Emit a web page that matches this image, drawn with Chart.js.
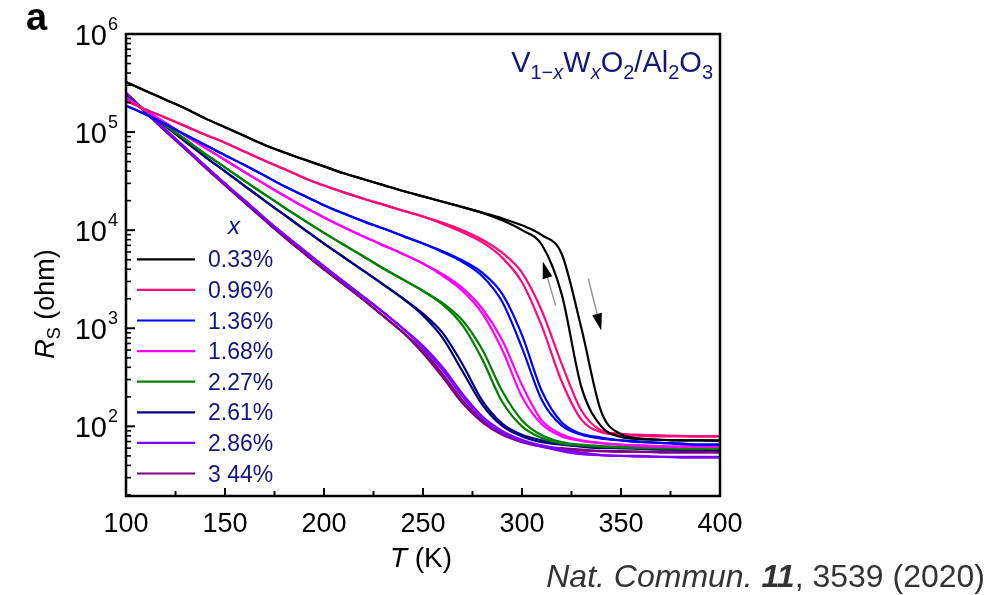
<!DOCTYPE html>
<html>
<head>
<meta charset="utf-8">
<script src="https://cdn.jsdelivr.net/npm/chart.js@4.4.0/dist/chart.umd.min.js"></script>
<style>
  html, body { margin: 0; padding: 0; background: #fff; }
</style>
</head>
<body>
<canvas id="rsChart" width="998" height="595"></canvas>
<script>
// Temperature grid (K)
const tempsK = [100, 110, 120, 130, 140, 150, 160, 170, 180, 190, 200, 210, 220, 230, 240, 250,
  260, 270, 280, 290, 300, 310, 320, 330, 340, 350, 360, 370, 380, 390, 400];

// Sheet resistance (ohm), heating and cooling branch for each W content
const x033Heat = [3.24e5, 2.63e5, 2.14e5, 1.74e5, 1.38e5, 1.12e5, 9.1e4, 7.4e4, 6.2e4, 5.25e4, 4.47e4, 3.8e4, 3.31e4, 2.88e4, 2.51e4, 2.21e4,
  1.95e4, 1.72e4, 1.51e4, 1.32e4, 1.12e4, 8.9e3, 5.75e3, 1.0e3, 141, 83, 75, 73, 72, 72, 71];
const x033Cool = [3.24e5, 2.63e5, 2.14e5, 1.74e5, 1.38e5, 1.12e5, 9.1e4, 7.4e4, 6.2e4, 5.25e4, 4.47e4, 3.8e4, 3.31e4, 2.88e4, 2.51e4, 2.21e4,
  1.95e4, 1.72e4, 1.5e4, 1.26e4, 1.0e4, 7.1e3, 2.24e3, 251, 100, 78, 74, 73, 72, 72, 72];
const x096Heat = [2.09e5, 1.7e5, 1.4e5, 1.15e5, 9.4e4, 7.8e4, 6.3e4, 5.1e4, 4.2e4, 3.4e4, 2.85e4, 2.43e4, 2.09e4, 1.82e4, 1.58e4, 1.38e4,
  1.19e4, 1.0e4, 8.0e3, 5.9e3, 3.7e3, 1.51e3, 437, 145, 91, 84, 82, 81, 80, 79, 79];
const x096Cool = [2.09e5, 1.7e5, 1.4e5, 1.15e5, 9.4e4, 7.8e4, 6.3e4, 5.1e4, 4.2e4, 3.4e4, 2.85e4, 2.43e4, 2.09e4, 1.82e4, 1.58e4, 1.38e4,
  1.16e4, 9.5e3, 7.5e3, 5.25e3, 2.95e3, 1.05e3, 288, 117, 87, 82, 80, 79, 79, 79, 79];
const x136Heat = [1.86e5, 1.51e5, 1.2e5, 9.4e4, 7.4e4, 5.8e4, 4.6e4, 3.6e4, 2.8e4, 2.24e4, 1.8e4, 1.48e4, 1.23e4, 1.04e4, 8.7e3, 7.3e3,
  6.1e3, 4.9e3, 3.67e3, 2.24e3, 851, 229, 110, 84, 77, 72, 70, 68, 67, 65, 65];
const x136Cool = [1.86e5, 1.51e5, 1.2e5, 9.4e4, 7.4e4, 5.8e4, 4.6e4, 3.6e4, 2.8e4, 2.24e4, 1.8e4, 1.48e4, 1.23e4, 1.04e4, 8.7e3, 7.3e3,
  5.96e3, 4.73e3, 3.39e3, 1.86e3, 631, 186, 102, 82, 75, 72, 69, 68, 66, 65, 65];
const x168Heat = [2.24e5, 1.66e5, 1.24e5, 9.2e4, 6.9e4, 5.2e4, 3.9e4, 2.95e4, 2.24e4, 1.72e4, 1.35e4, 1.07e4, 8.6e3, 7.0e3, 5.7e3, 4.57e3,
  3.55e3, 2.57e3, 1.58e3, 759, 263, 115, 83, 72, 68, 65, 64, 63, 62, 62, 62];
const x168Cool = [2.24e5, 1.66e5, 1.24e5, 9.2e4, 6.9e4, 5.2e4, 3.9e4, 2.95e4, 2.24e4, 1.72e4, 1.35e4, 1.07e4, 8.6e3, 7.0e3, 5.7e3, 4.57e3,
  3.43e3, 2.4e3, 1.41e3, 603, 200, 105, 79, 71, 67, 65, 63, 62, 62, 62, 62];
const x227Heat = [2.29e5, 1.64e5, 1.17e5, 8.4e4, 6.0e4, 4.37e4, 3.16e4, 2.32e4, 1.7e4, 1.26e4, 9.4e3, 7.1e3, 5.4e3, 4.07e3, 3.13e3, 2.4e3,
  1.8e3, 1.2e3, 603, 229, 115, 81, 69, 65, 63, 62, 61, 60, 60, 59, 59];
const x227Cool = [2.29e5, 1.64e5, 1.17e5, 8.4e4, 6.0e4, 4.37e4, 3.16e4, 2.32e4, 1.7e4, 1.26e4, 9.4e3, 7.1e3, 5.4e3, 4.07e3, 3.13e3, 2.4e3,
  1.74e3, 1.07e3, 479, 178, 100, 76, 67, 64, 62, 61, 60, 60, 59, 59, 59];
const x261Heat = [2.34e5, 1.64e5, 1.15e5, 8.0e4, 5.6e4, 3.98e4, 2.82e4, 2.0e4, 1.43e4, 1.02e4, 7.3e3, 5.3e3, 3.85e3, 2.79e3, 2.0e3, 1.41e3,
  891, 427, 182, 107, 82, 72, 66, 63, 62, 60, 60, 59, 58, 58, 58];
const x261Cool = [2.34e5, 1.64e5, 1.15e5, 8.0e4, 5.6e4, 3.98e4, 2.82e4, 2.0e4, 1.43e4, 1.02e4, 7.3e3, 5.3e3, 3.85e3, 2.79e3, 2.0e3, 1.35e3,
  794, 363, 166, 101, 79, 69, 65, 62, 60, 60, 59, 58, 58, 58, 57];
const x286Heat = [2.51e5, 1.62e5, 1.06e5, 6.9e4, 4.52e4, 2.99e4, 2.0e4, 1.33e4, 9.0e3, 6.2e3, 4.27e3, 2.99e3, 2.09e3, 1.45e3, 989, 661,
  398, 214, 126, 90, 73, 64, 58, 54, 51, 50, 50, 49, 49, 49, 49];
const x286Cool = [2.51e5, 1.62e5, 1.06e5, 6.9e4, 4.52e4, 2.99e4, 2.0e4, 1.33e4, 9.0e3, 6.2e3, 4.27e3, 2.99e3, 2.09e3, 1.45e3, 989, 631,
  372, 200, 119, 86, 71, 62, 56, 52, 51, 50, 49, 49, 48, 48, 48];
const x344Heat = [2.45e5, 1.58e5, 1.02e5, 6.7e4, 4.37e4, 2.88e4, 1.91e4, 1.27e4, 8.5e3, 5.8e3, 3.98e3, 2.79e3, 1.95e3, 1.33e3, 902, 589,
  339, 184, 115, 85, 71, 63, 60, 58, 56, 56, 55, 55, 55, 55, 55];
const x344Cool = [2.45e5, 1.58e5, 1.02e5, 6.7e4, 4.37e4, 2.88e4, 1.91e4, 1.27e4, 8.5e3, 5.8e3, 3.98e3, 2.79e3, 1.95e3, 1.33e3, 902, 556,
  316, 172, 110, 82, 69, 62, 59, 57, 56, 55, 55, 54, 54, 54, 54];

const xLabels = ['0.33%', '0.96%', '1.36%', '1.68%', '2.27%', '2.61%', '2.86%', '3 44%'];
const lineColors = ['#000000', '#ff0a78', '#0000ff', '#ff00ff', '#008000', '#000080', '#8000ff', '#800080'];
const heatSeries = [x033Heat, x096Heat, x136Heat, x168Heat, x227Heat, x261Heat, x286Heat, x344Heat];
const coolSeries = [x033Cool, x096Cool, x136Cool, x168Cool, x227Cool, x261Cool, x286Cool, x344Cool];

// Axis ticks
const xMajorTicks = [100, 150, 200, 250, 300, 350, 400];
const xMinorTicks = [125, 175, 225, 275, 325, 375];
const yDecades = [2, 3, 4, 5, 6];

// Hysteresis arrows [tail, tip] in (T, R)
const arrowCooling = [[317, 1700], [310.5, 4800]];
const arrowHeating = [[333.5, 3200], [340, 950]];

const FONT = '"Liberation Sans", Arial, Helvetica, sans-serif';
const NAVY = '#15157c';

function toPoints(vals) {
    return vals.map((v, i) => ({ x: tempsK[i], y: v }));
}

const datasets = [];
xLabels.forEach((lab, i) => {
    [heatSeries[i], coolSeries[i]].forEach((vals, j) => {
        datasets.push({
            label: lab + (j ? ' cooling' : ' heating'),
            data: toPoints(vals),
            borderColor: lineColors[i],
            borderWidth: 2.2,
            pointRadius: 0,
            fill: false,
            cubicInterpolationMode: 'monotone'
        });
    });
});

// Draw a row of text pieces [text, size, style, dy]
function drawRuns(ctx, runs, x, baseline) {
    runs.forEach(r => {
        ctx.font = (r[2] || '') + ' ' + r[1] + 'px ' + FONT;
        ctx.fillText(r[0], x, baseline + (r[3] || 0));
        x += ctx.measureText(r[0]).width;
    });
}
function runsWidth(ctx, runs) {
    let w = 0;
    runs.forEach(r => {
        ctx.font = (r[2] || '') + ' ' + r[1] + 'px ' + FONT;
        w += ctx.measureText(r[0]).width;
    });
    return w;
}

function drawArrow(ctx, xs, ys, pts) {
    const x0 = xs.getPixelForValue(pts[0][0]), y0 = ys.getPixelForValue(pts[0][1]);
    const x1 = xs.getPixelForValue(pts[1][0]), y1 = ys.getPixelForValue(pts[1][1]);
    const ang = Math.atan2(y1 - y0, x1 - x0);
    const len = 17, half = 5;
    const bx = x1 - len * Math.cos(ang), by = y1 - len * Math.sin(ang);
    ctx.strokeStyle = '#9a9a9a';
    ctx.lineWidth = 1.5;
    ctx.beginPath();
    ctx.moveTo(x0, y0);
    ctx.lineTo(bx, by);
    ctx.stroke();
    ctx.fillStyle = '#000';
    ctx.beginPath();
    ctx.moveTo(x1, y1);
    ctx.lineTo(bx + half * Math.sin(ang), by - half * Math.cos(ang));
    ctx.lineTo(bx - half * Math.sin(ang), by + half * Math.cos(ang));
    ctx.closePath();
    ctx.fill();
}

const figureDecor = {
    id: 'figureDecor',
    afterDatasetsDraw(chart) {
        const ctx = chart.ctx;
        const area = chart.chartArea;
        const xs = chart.scales.x;
        const ys = chart.scales.y;
        ctx.save();

        // frame
        ctx.strokeStyle = '#000';
        ctx.lineWidth = 2.5;
        ctx.strokeRect(area.left, area.top, area.right - area.left, area.bottom - area.top);

        // x ticks (inward)
        ctx.lineWidth = 2;
        xMajorTicks.concat(xMinorTicks).forEach(t => {
            const px = xs.getPixelForValue(t);
            const len = xMajorTicks.includes(t) ? 8 : 5;
            ctx.beginPath();
            ctx.moveTo(px, area.bottom);
            ctx.lineTo(px, area.bottom - len);
            ctx.stroke();
        });

        // y ticks (inward, log minor)
        for (let d = 1; d <= 6; d++) {
            for (let m = 1; m <= 9; m++) {
                const v = m * Math.pow(10, d);
                if (v < ys.min || v > ys.max) continue;
                const py = ys.getPixelForValue(v);
                ctx.lineWidth = m === 1 ? 2 : 1.6;
                ctx.beginPath();
                ctx.moveTo(area.left, py);
                ctx.lineTo(area.left + (m === 1 ? 9 : 5), py);
                ctx.stroke();
            }
        }

        // x tick labels
        ctx.fillStyle = '#000';
        ctx.textAlign = 'center';
        ctx.textBaseline = 'alphabetic';
        ctx.font = '27px ' + FONT;
        xMajorTicks.forEach(t => {
            ctx.fillText(String(t), xs.getPixelForValue(t), area.bottom + 36);
        });

        // y tick labels 10^n
        yDecades.forEach(n => {
            const py = ys.getPixelForValue(Math.pow(10, n));
            ctx.textAlign = 'right';
            ctx.font = '29px ' + FONT;
            ctx.fillText('10', area.left - 19, py + 11);
            ctx.textAlign = 'left';
            ctx.font = '18px ' + FONT;
            ctx.fillText(String(n), area.left - 18, py - 4);
        });

        // axis titles
        ctx.textAlign = 'left';
        const xTitle = [['T', 28, 'italic'], [' (K)', 28]];
        drawRuns(ctx, xTitle, 421 - runsWidth(ctx, xTitle) / 2, 567);

        const yTitle = [['R', 27, 'italic'], ['S', 18, '', 6], [' (ohm)', 27]];
        ctx.save();
        ctx.translate(54, 304);
        ctx.rotate(-Math.PI / 2);
        drawRuns(ctx, yTitle, -runsWidth(ctx, yTitle) / 2, 0);
        ctx.restore();

        // panel letter
        ctx.font = 'bold 38px ' + FONT;
        ctx.fillText('a', 26, 30);

        // material label
        ctx.fillStyle = NAVY;
        const mat = [['V', 29], ['1\u2212', 20, '', 7], ['x', 20, 'italic', 7], ['W', 29], ['x', 20, 'italic', 7],
            ['O', 29], ['2', 20, '', 7], ['/Al', 29], ['2', 20, '', 7], ['O', 29], ['3', 20, '', 7]];
        drawRuns(ctx, mat, 713 - runsWidth(ctx, mat), 72);

        // legend
        ctx.font = 'italic 24px ' + FONT;
        ctx.textAlign = 'center';
        ctx.fillText('x', 234, 234);
        ctx.textAlign = 'left';
        xLabels.forEach((lab, i) => {
            const ry = 259.3 + i * 30.6;
            ctx.strokeStyle = lineColors[i];
            ctx.lineWidth = 2.2;
            ctx.beginPath();
            ctx.moveTo(137, ry);
            ctx.lineTo(195, ry);
            ctx.stroke();
            ctx.fillStyle = NAVY;
            ctx.font = '23px ' + FONT;
            ctx.fillText(lab, 208, ry + 8);
        });

        // hysteresis arrows
        drawArrow(ctx, xs, ys, arrowCooling);
        drawArrow(ctx, xs, ys, arrowHeating);

        // citation
        ctx.fillStyle = '#333333';
        const cite = [['Nat. Commun. ', 32, 'italic'], ['11', 32, 'italic bold'], [', 3539 (2020)', 32]];
        drawRuns(ctx, cite, 985 - runsWidth(ctx, cite), 587);

        ctx.restore();
    }
};

const chart = new Chart(document.getElementById('rsChart').getContext('2d'), {
    type: 'line',
    data: { datasets: datasets },
    options: {
        responsive: false,
        animation: false,
        devicePixelRatio: 1,
        layout: {
            autoPadding: false,
            padding: { left: 126, top: 34, right: 278, bottom: 99 }
        },
        plugins: {
            legend: { display: false },
            tooltip: { enabled: false }
        },
        scales: {
            x: { type: 'linear', min: 100, max: 400, display: false },
            y: { type: 'logarithmic', min: 19.5, max: 1e6, display: false }
        }
    },
    plugins: [figureDecor]
});
</script>
</body>
</html>
